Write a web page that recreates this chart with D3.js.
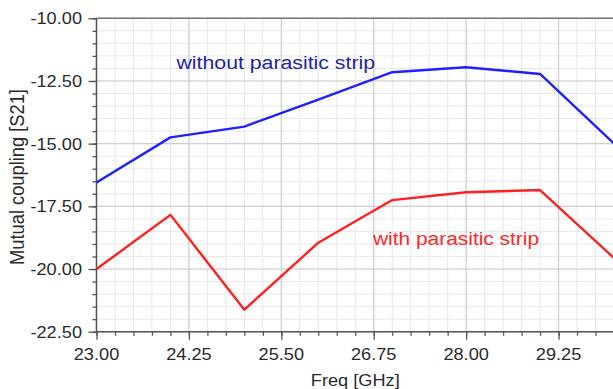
<!DOCTYPE html>
<html><head><meta charset="utf-8">
<script src="https://cdn.jsdelivr.net/npm/d3@7"></script>
<style>body{margin:0;background:#fff;overflow:hidden}svg{display:block}text{font-family:"Liberation Sans",Arial,sans-serif}</style>
</head><body>
<script>
const freqs = [23, 24, 25, 26, 27, 28, 29, 30];
const withoutStrip = [-16.55, -14.75, -14.32, -13.24, -12.15, -11.95, -12.22, -15.0];
const withStrip = [-20.0, -17.84, -21.62, -18.95, -17.25, -16.94, -16.85, -19.56];
const xMajorTicks = [23.00, 24.25, 25.50, 26.75, 28.00, 29.25];
const yMajorTicks = [-10, -12.5, -15, -17.5, -20, -22.5];
const seriesNames = ["without parasitic strip", "with parasitic strip"];
const xTitle = "Freq [GHz]";
const yTitle = "Mutual coupling [S21]";

const W = 613, H = 389;
const L = 96.5, R = 614, T = 18.3, B = 331.7;
const svg = d3.select("body").append("svg").attr("width", W).attr("height", H);
const x = d3.scaleLinear().domain([23, 30]).range([L, R]);
const y = d3.scaleLinear().domain([-22.5, -10]).range([B, T]);
const fmt = d => d3.format(".2f")(d).replace("\u2212", "-");

const xMinor = d3.range(23, 30.001, 0.25);
const yMinor = d3.range(-22.5, -9.999, 0.5);

const grid = svg.append("g");
grid.selectAll(".vm").data(xMinor).join("line").attr("x1", d => x(d)).attr("x2", d => x(d)).attr("y1", T).attr("y2", B).attr("stroke", "#e8e8e8").attr("stroke-width", 1);
grid.selectAll(".hm").data(yMinor).join("line").attr("y1", d => y(d)).attr("y2", d => y(d)).attr("x1", L).attr("x2", R).attr("stroke", "#e8e8e8").attr("stroke-width", 1);
grid.selectAll(".vM").data(xMajorTicks).join("line").attr("x1", d => x(d)).attr("x2", d => x(d)).attr("y1", T).attr("y2", B).attr("stroke", "#cfcfcf").attr("stroke-width", 1.2);
grid.selectAll(".hM").data(yMajorTicks).join("line").attr("y1", d => y(d)).attr("y2", d => y(d)).attr("x1", L).attr("x2", R).attr("stroke", "#cfcfcf").attr("stroke-width", 1.2);

// axes
const axB = svg.append("g").attr("transform", `translate(0,${B})`);
axB.call(d3.axisBottom(x).tickValues(xMinor).tickSize(4).tickFormat("")).call(g => g.select(".domain").remove());
axB.append("g").call(d3.axisBottom(x).tickValues(xMajorTicks).tickSize(8).tickFormat("")).call(g => g.select(".domain").remove());
axB.selectAll("line").attr("stroke", "#555").attr("stroke-width", 1.3);
const axL = svg.append("g").attr("transform", `translate(${L},0)`);
axL.call(d3.axisLeft(y).tickValues(yMinor).tickSize(4).tickFormat("")).call(g => g.select(".domain").remove());
axL.append("g").call(d3.axisLeft(y).tickValues(yMajorTicks).tickSize(8).tickFormat("")).call(g => g.select(".domain").remove());
axL.selectAll("line").attr("stroke", "#555").attr("stroke-width", 1.3);

svg.append("line").attr("x1", L).attr("x2", R).attr("y1", T).attr("y2", T).attr("stroke", "#777").attr("stroke-width", 1.5);
svg.append("line").attr("x1", L).attr("x2", L).attr("y1", T).attr("y2", B + 1).attr("stroke", "#555").attr("stroke-width", 1.5);
svg.append("line").attr("x1", L).attr("x2", R).attr("y1", B).attr("y2", B).attr("stroke", "#555").attr("stroke-width", 1.5);

// tick labels
const sx = 1.07;
svg.append("g").selectAll("text").data(yMajorTicks).join("text")
  .attr("transform", d => `translate(82,${y(d)}) scale(${sx},1)`)
  .attr("text-anchor", "end").attr("dy", "0.36em")
  .attr("font-size", 17).attr("fill", "#2a2a2a").text(fmt);
svg.append("g").selectAll("text").data(xMajorTicks).join("text")
  .attr("transform", d => `translate(${x(d)},360) scale(${sx},1)`)
  .attr("text-anchor", "middle")
  .attr("font-size", 17).attr("fill", "#2a2a2a").text(fmt);

svg.append("text").attr("transform", `translate(${(L + R) / 2},386) scale(${sx},1)`).attr("text-anchor", "middle")
  .attr("font-size", 17).attr("fill", "#2a2a2a").text(xTitle);
svg.append("text").attr("transform", `translate(24,${(T + B) / 2 + 2}) rotate(-90) scale(1.0,1.06)`).attr("text-anchor", "middle")
  .attr("font-size", 18.3).attr("fill", "#2a2a2a").text(yTitle);

// lines
const line = d3.line().x((d, i) => x(freqs[i])).y(d => y(d));
svg.append("path").datum(withoutStrip).attr("d", line).attr("fill", "none").attr("stroke", "#1f1fff").attr("stroke-width", 2.4).attr("stroke-linejoin", "round");
svg.append("path").datum(withStrip).attr("d", line).attr("fill", "none").attr("stroke", "#ff1f1f").attr("stroke-width", 2.4).attr("stroke-linejoin", "round");

// series labels
svg.append("text").attr("transform", `translate(176.5,68.5) scale(1.12,1)`).attr("font-size", 19).attr("fill", "#2323a8").text(seriesNames[0]);
svg.append("text").attr("transform", `translate(373,244.5) scale(1.1,1)`).attr("font-size", 19).attr("fill", "#ff2626").text(seriesNames[1]);
</script>
</body></html>
